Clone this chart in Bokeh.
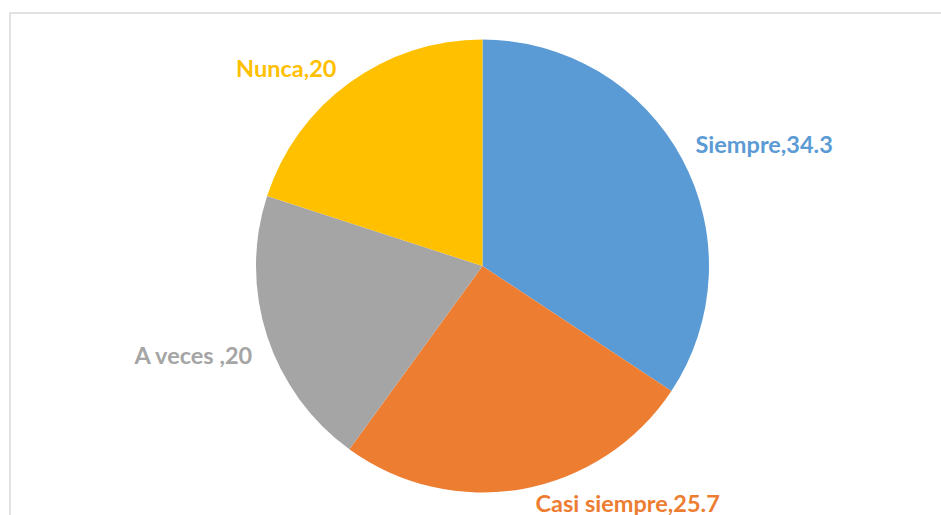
import math
from bokeh.plotting import figure
from bokeh.models import Range1d, ColumnDataSource
from bokeh.core.properties import value
from bokeh.embed import file_html
from bokeh.resources import INLINE

categories = ["Siempre", "Casi siempre", "A veces ", "Nunca"]
values = [34.3, 25.7, 20, 20]
colors = ["#5B9BD5", "#ED7D31", "#A5A5A5", "#FFC000"]

# layout (pixel coordinates of screenshot)
W, H = 941, 515
CX, CY, R = 482, 265.5, 226.5
label_pos = [(695, 143, "left"), (535, 502, "left"), (253, 354, "right"), (336, 67, "right")]

total = sum(values)
starts, ends = [], []
acc = 0.0
for v in values:
    a0 = math.pi / 2 - 2 * math.pi * acc / total
    acc += v
    a1 = math.pi / 2 - 2 * math.pi * acc / total
    starts.append(a1)
    ends.append(a0)

p = figure(width=W, height=H, output_backend="svg", toolbar_location=None,
           x_range=Range1d(0, W), y_range=Range1d(-H, 0),
           min_border=0, border_fill_color="white", outline_line_color=None)
p.axis.visible = False
p.grid.visible = False

# chart area border
p.quad(left=[9.5], right=[1000], top=[-12.5], bottom=[-600],
       fill_color=None, line_color="#D9D9D9", line_width=1.5)

src = ColumnDataSource(dict(start=starts, end=ends, color=colors, cat=categories, val=values))
p.wedge(x=CX, y=-CY, radius=R, start_angle="start", end_angle="end",
        fill_color="color", line_color=None, source=src)

for (cat, v, c, (lx, ly, al)) in zip(categories, values, colors, label_pos):
    txt = f"{cat},{v:g}"
    p.text(x=[lx], y=[-ly], text=[txt], text_color=c, text_font=value("Lato"),
           text_font_style="bold", text_font_size="23.5px", text_align=al,
           text_baseline="middle")

open("out.html", "w").write(file_html(p, INLINE))
